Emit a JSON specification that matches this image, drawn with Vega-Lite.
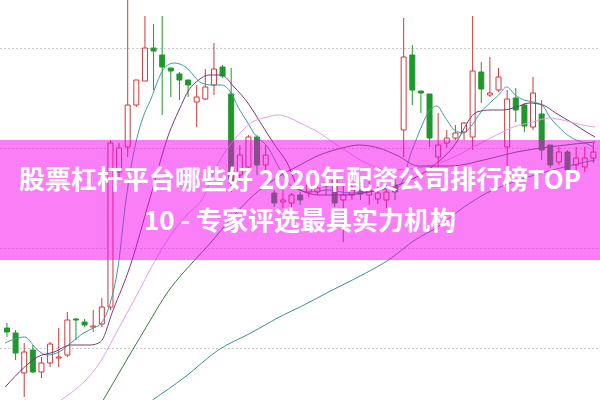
{
  "$schema": "https://vega.github.io/schema/vega-lite/v6.json",
  "width": 600,
  "height": 400,
  "autosize": {"type": "fit", "contains": "padding"},
  "padding": 0,
  "background": "#ffffff",
  "view": {"stroke": null},
  "datasets": {
    "candles": [
      {"d":0,"o":12.0,"c":11.6,"h":12.5,"l":11.1},
      {"d":1,"o":11.5,"c":9.5,"h":11.8,"l":8.8},
      {"d":2,"o":7.5,"c":9.6,"h":10.5,"l":5.1},
      {"d":3,"o":9.8,"c":7.6,"h":10.3,"l":7.5},
      {"d":4,"o":7.6,"c":8.5,"h":9.1,"l":7.0},
      {"d":5,"o":8.5,"c":10.4,"h":10.6,"l":8.1},
      {"d":6,"o":9.0,"c":9.1,"h":12.0,"l":8.1},
      {"d":7,"o":9.3,"c":12.8,"h":13.6,"l":9.1},
      {"d":8,"o":12.9,"c":12.8,"h":13.0,"l":10.8},
      {"d":9,"o":12.6,"c":12.3,"h":12.9,"l":12.1},
      {"d":10,"o":12.1,"c":12.2,"h":13.8,"l":11.6},
      {"d":11,"o":12.4,"c":14.1,"h":15.0,"l":12.1},
      {"d":12,"o":14.1,"c":30.5,"h":30.8,"l":13.8},
      {"d":13,"o":27.6,"c":30.0,"h":30.5,"l":26.8},
      {"d":14,"o":30.1,"c":34.3,"h":44.8,"l":29.1},
      {"d":15,"o":34.3,"c":36.8,"h":36.8,"l":34.1},
      {"d":16,"o":36.7,"c":40.0,"h":43.2,"l":36.7},
      {"d":17,"o":40.0,"c":39.7,"h":42.4,"l":35.8},
      {"d":18,"o":39.3,"c":38.1,"h":43.2,"l":33.3},
      {"d":19,"o":38.0,"c":37.7,"h":38.0,"l":35.1},
      {"d":20,"o":37.4,"c":36.8,"h":37.6,"l":34.8},
      {"d":21,"o":36.8,"c":36.3,"h":36.8,"l":35.1},
      {"d":22,"o":34.6,"c":35.1,"h":36.3,"l":32.1},
      {"d":23,"o":34.9,"c":36.1,"h":37.9,"l":34.8},
      {"d":24,"o":36.3,"c":37.9,"h":40.5,"l":35.3},
      {"d":25,"o":38.1,"c":37.2,"h":38.3,"l":37.0},
      {"d":26,"o":35.4,"c":26.5,"h":38.0,"l":25.6},
      {"d":27,"o":27.3,"c":29.3,"h":30.3,"l":26.6},
      {"d":28,"o":28.1,"c":31.1,"h":31.3,"l":27.8},
      {"d":29,"o":31.1,"c":28.3,"h":31.3,"l":27.3},
      {"d":30,"o":28.3,"c":29.3,"h":30.3,"l":27.5},
      {"d":31,"o":25.5,"c":24.5,"h":25.8,"l":24.1},
      {"d":32,"o":24.6,"c":24.8,"h":25.8,"l":24.0},
      {"d":33,"o":24.5,"c":25.3,"h":25.5,"l":24.0},
      {"d":34,"o":25.3,"c":24.8,"h":25.6,"l":24.3},
      {"d":35,"o":25.6,"c":26.3,"h":27.5,"l":25.1},
      {"d":36,"o":25.6,"c":26.0,"h":27.1,"l":25.3},
      {"d":37,"o":26.5,"c":26.2,"h":27.1,"l":25.3},
      {"d":38,"o":26.8,"c":24.5,"h":27.1,"l":24.1},
      {"d":39,"o":24.8,"c":25.3,"h":26.3,"l":20.6},
      {"d":40,"o":25.3,"c":25.8,"h":26.5,"l":24.8},
      {"d":41,"o":25.8,"c":25.4,"h":26.6,"l":24.8},
      {"d":42,"o":25.3,"c":25.8,"h":26.8,"l":24.3},
      {"d":43,"o":24.9,"c":25.5,"h":26.3,"l":24.4},
      {"d":44,"o":24.8,"c":25.6,"h":26.3,"l":24.0},
      {"d":45,"o":26.3,"c":25.6,"h":27.0,"l":24.8},
      {"d":46,"o":31.8,"c":39.1,"h":43.0,"l":29.1},
      {"d":47,"o":39.3,"c":35.8,"h":40.3,"l":34.3},
      {"d":48,"o":35.7,"c":35.5,"h":35.7,"l":33.5},
      {"d":49,"o":35.4,"c":31.0,"h":35.4,"l":30.1},
      {"d":50,"o":29.1,"c":30.3,"h":33.5,"l":28.1},
      {"d":51,"o":30.5,"c":31.0,"h":31.8,"l":30.0},
      {"d":52,"o":31.0,"c":31.5,"h":32.3,"l":30.8},
      {"d":53,"o":31.6,"c":32.5,"h":32.6,"l":30.8},
      {"d":54,"o":31.1,"c":37.7,"h":43.2,"l":29.8},
      {"d":55,"o":37.6,"c":35.9,"h":38.6,"l":34.5},
      {"d":56,"o":35.3,"c":35.5,"h":39.1,"l":35.1},
      {"d":57,"o":35.8,"c":37.1,"h":38.0,"l":35.6},
      {"d":58,"o":30.1,"c":34.9,"h":35.8,"l":28.1},
      {"d":59,"o":35.0,"c":33.8,"h":36.0,"l":32.6},
      {"d":60,"o":34.3,"c":32.2,"h":34.5,"l":31.6},
      {"d":61,"o":32.1,"c":35.5,"h":37.1,"l":31.8},
      {"d":62,"o":33.4,"c":29.8,"h":34.8,"l":28.8},
      {"d":63,"o":30.3,"c":28.3,"h":30.3,"l":28.0},
      {"d":64,"o":28.6,"c":29.6,"h":30.1,"l":28.3},
      {"d":65,"o":29.6,"c":27.8,"h":29.8,"l":26.8},
      {"d":66,"o":28.3,"c":29.0,"h":30.1,"l":27.8},
      {"d":67,"o":28.1,"c":29.0,"h":30.1,"l":27.6},
      {"d":68,"o":29.0,"c":29.6,"h":30.5,"l":28.5}
    ],
    "ma": [
      {"ma":"MA5","d":-0.2,"p":10.5},{"ma":"MA5","d":2.05,"p":11.1},{"ma":"MA5","d":3.53,"p":9.8},{"ma":"MA5","d":4.67,"p":9.3},
      {"ma":"MA5","d":6.04,"p":9.6},{"ma":"MA5","d":7.41,"p":10.5},{"ma":"MA5","d":8.89,"p":11.5},{"ma":"MA5","d":10.03,"p":12.0},
      {"ma":"MA5","d":10.95,"p":12.5},{"ma":"MA5","d":11.97,"p":14.5},{"ma":"MA5","d":12.88,"p":18.1},{"ma":"MA5","d":13.8,"p":24.8},
      {"ma":"MA5","d":14.94,"p":30.5},{"ma":"MA5","d":15.96,"p":33.5},{"ma":"MA5","d":16.65,"p":34.8},{"ma":"MA5","d":17.67,"p":37.1},
      {"ma":"MA5","d":18.36,"p":38.1},{"ma":"MA5","d":19.38,"p":38.5},{"ma":"MA5","d":20.3,"p":38.3},{"ma":"MA5","d":21.09,"p":37.8},
      {"ma":"MA5","d":21.78,"p":37.1},{"ma":"MA5","d":22.58,"p":36.5},{"ma":"MA5","d":23.72,"p":36.3},{"ma":"MA5","d":24.86,"p":36.3},
      {"ma":"MA5","d":26.0,"p":35.5},{"ma":"MA5","d":26.8,"p":34.1},{"ma":"MA5","d":27.94,"p":32.5},{"ma":"MA5","d":28.62,"p":31.5},
      {"ma":"MA5","d":30.22,"p":30.1},{"ma":"MA5","d":31.7,"p":27.8},{"ma":"MA5","d":32.84,"p":26.3},{"ma":"MA5","d":35.12,"p":25.6},
      {"ma":"MA5","d":37.4,"p":25.8},{"ma":"MA5","d":39.68,"p":25.5},{"ma":"MA5","d":41.96,"p":25.6},{"ma":"MA5","d":44.24,"p":26.0},
      {"ma":"MA5","d":45.38,"p":26.1},{"ma":"MA5","d":46.98,"p":29.8},{"ma":"MA5","d":48.0,"p":32.0},{"ma":"MA5","d":48.8,"p":33.5},
      {"ma":"MA5","d":49.83,"p":34.2},{"ma":"MA5","d":50.86,"p":33.0},{"ma":"MA5","d":51.88,"p":31.8},{"ma":"MA5","d":52.91,"p":31.5},
      {"ma":"MA5","d":53.93,"p":32.3},{"ma":"MA5","d":54.96,"p":33.6},{"ma":"MA5","d":55.99,"p":34.5},{"ma":"MA5","d":57.01,"p":35.3},
      {"ma":"MA5","d":57.93,"p":36.1},{"ma":"MA5","d":58.95,"p":35.3},{"ma":"MA5","d":59.98,"p":34.8},{"ma":"MA5","d":61.0,"p":34.6},
      {"ma":"MA5","d":62.03,"p":34.3},{"ma":"MA5","d":62.94,"p":33.1},{"ma":"MA5","d":63.97,"p":32.1},{"ma":"MA5","d":64.99,"p":31.3},
      {"ma":"MA5","d":66.02,"p":30.8},{"ma":"MA5","d":67.05,"p":30.5},{"ma":"MA5","d":67.96,"p":30.1},

      {"ma":"MA10","d":-0.2,"p":6.1},{"ma":"MA10","d":2.05,"p":8.1},{"ma":"MA10","d":3.53,"p":9.1},{"ma":"MA10","d":5.47,"p":9.6},
      {"ma":"MA10","d":7.41,"p":10.3},{"ma":"MA10","d":9.69,"p":10.3},{"ma":"MA10","d":10.83,"p":10.6},{"ma":"MA10","d":12.31,"p":13.8},
      {"ma":"MA10","d":14.25,"p":18.1},{"ma":"MA10","d":16.53,"p":24.8},{"ma":"MA10","d":18.81,"p":31.5},{"ma":"MA10","d":19.95,"p":33.8},
      {"ma":"MA10","d":21.09,"p":35.8},{"ma":"MA10","d":22.23,"p":36.8},{"ma":"MA10","d":23.38,"p":37.3},{"ma":"MA10","d":24.86,"p":37.3},
      {"ma":"MA10","d":26.34,"p":36.1},{"ma":"MA10","d":27.94,"p":34.5},{"ma":"MA10","d":29.42,"p":32.5},{"ma":"MA10","d":30.9,"p":30.5},
      {"ma":"MA10","d":32.5,"p":28.5},{"ma":"MA10","d":33.98,"p":25.8},{"ma":"MA10","d":36.26,"p":25.3},{"ma":"MA10","d":39.1,"p":25.3},
      {"ma":"MA10","d":41.96,"p":25.6},{"ma":"MA10","d":45.38,"p":26.3},{"ma":"MA10","d":48.8,"p":27.8},{"ma":"MA10","d":51.65,"p":30.0},
      {"ma":"MA10","d":54.5,"p":33.6},{"ma":"MA10","d":55.99,"p":33.8},{"ma":"MA10","d":57.58,"p":33.8},{"ma":"MA10","d":59.07,"p":34.1},
      {"ma":"MA10","d":60.55,"p":34.5},{"ma":"MA10","d":62.14,"p":34.3},{"ma":"MA10","d":63.63,"p":33.5},{"ma":"MA10","d":65.56,"p":32.5},
      {"ma":"MA10","d":67.39,"p":31.5},{"ma":"MA10","d":68.19,"p":31.1},

      {"ma":"MA20","d":6.27,"p":4.8},{"ma":"MA20","d":11.17,"p":9.1},{"ma":"MA20","d":12.66,"p":11.5},{"ma":"MA20","d":14.94,"p":15.1},
      {"ma":"MA20","d":17.22,"p":18.8},{"ma":"MA20","d":19.16,"p":21.5},{"ma":"MA20","d":21.09,"p":23.5},{"ma":"MA20","d":22.58,"p":24.8},
      {"ma":"MA20","d":24.51,"p":28.5},{"ma":"MA20","d":26.34,"p":30.8},{"ma":"MA20","d":28.28,"p":32.5},{"ma":"MA20","d":30.22,"p":33.1},
      {"ma":"MA20","d":31.36,"p":33.3},{"ma":"MA20","d":32.84,"p":33.0},{"ma":"MA20","d":33.98,"p":32.5},{"ma":"MA20","d":36.26,"p":31.5},
      {"ma":"MA20","d":37.74,"p":30.6},{"ma":"MA20","d":39.68,"p":29.5},{"ma":"MA20","d":41.62,"p":28.5},{"ma":"MA20","d":44.24,"p":27.8},
      {"ma":"MA20","d":47.66,"p":28.0},{"ma":"MA20","d":51.08,"p":28.8},{"ma":"MA20","d":54.5,"p":30.3},{"ma":"MA20","d":56.78,"p":31.3},
      {"ma":"MA20","d":58.72,"p":32.1},{"ma":"MA20","d":61.0,"p":32.6},{"ma":"MA20","d":62.83,"p":33.0},{"ma":"MA20","d":64.42,"p":32.8},
      {"ma":"MA20","d":66.7,"p":32.3},{"ma":"MA20","d":68.19,"p":32.1},

      {"ma":"MA30","d":11.17,"p":4.8},{"ma":"MA30","d":15.74,"p":11.5},{"ma":"MA30","d":18.81,"p":15.8},{"ma":"MA30","d":21.78,"p":18.8},
      {"ma":"MA30","d":23.38,"p":20.3},{"ma":"MA30","d":26.34,"p":23.3},{"ma":"MA30","d":28.62,"p":25.3},{"ma":"MA30","d":30.9,"p":26.8},
      {"ma":"MA30","d":33.98,"p":28.3},{"ma":"MA30","d":36.26,"p":29.3},{"ma":"MA30","d":38.88,"p":30.0},{"ma":"MA30","d":40.82,"p":30.3},
      {"ma":"MA30","d":43.1,"p":30.0},{"ma":"MA30","d":45.38,"p":29.2},{"ma":"MA30","d":47.66,"p":28.2},{"ma":"MA30","d":51.42,"p":28.2},
      {"ma":"MA30","d":55.3,"p":28.8},{"ma":"MA30","d":59.07,"p":29.6},{"ma":"MA30","d":62.83,"p":30.1},{"ma":"MA30","d":68.19,"p":30.6},

      {"ma":"MA60","d":16.88,"p":4.8},{"ma":"MA60","d":20.64,"p":7.1},{"ma":"MA60","d":24.51,"p":9.8},{"ma":"MA60","d":28.28,"p":11.5},
      {"ma":"MA60","d":32.04,"p":13.3},{"ma":"MA60","d":33.98,"p":14.1},{"ma":"MA60","d":37.74,"p":15.8},{"ma":"MA60","d":41.62,"p":17.5},
      {"ma":"MA60","d":44.24,"p":18.8},{"ma":"MA60","d":47.32,"p":20.8},{"ma":"MA60","d":49.94,"p":22.1},{"ma":"MA60","d":53.02,"p":24.1},
      {"ma":"MA60","d":55.64,"p":25.5},{"ma":"MA60","d":59.41,"p":26.8},{"ma":"MA60","d":63.28,"p":27.8},{"ma":"MA60","d":68.19,"p":28.8}
    ]
  },
  "layer": [
    {
      "data": {"name": "candles"},
      "transform": [{"calculate": "datum.c >= datum.o ? 'up' : 'down'", "as": "dir"}],
      "mark": {"type": "rule", "strokeWidth": 1, "clip": true},
      "encoding": {
        "x": {"field": "d", "type": "quantitative", "scale": {"domain": [-0.228, 68.187], "nice": false, "zero": false}, "axis": null},
        "y": {"field": "l", "type": "quantitative", "scale": {"domain": [4.8, 44.8], "nice": false, "zero": false},
              "axis": {"grid": true, "labels": false, "ticks": false, "domain": false, "title": null, "values": [10, 20, 30, 40], "gridDash": [1, 3], "gridColor": "#999999", "gridWidth": 1}},
        "y2": {"field": "h"},
        "stroke": {"field": "dir", "type": "nominal", "scale": {"domain": ["up", "down"], "range": ["#d2383a", "#1f982b"]}, "legend": null}
      }
    },
    {
      "data": {"name": "candles"},
      "transform": [{"calculate": "datum.c >= datum.o ? 'up' : 'down'", "as": "dir"}],
      "mark": {"type": "bar", "size": 5, "strokeWidth": 1, "clip": true},
      "encoding": {
        "x": {"field": "d", "type": "quantitative"},
        "y": {"field": "o", "type": "quantitative"},
        "y2": {"field": "c"},
        "stroke": {"field": "dir", "type": "nominal", "legend": null},
        "fill": {"field": "dir", "type": "nominal", "scale": {"domain": ["up", "down"], "range": ["#ffffff", "#1f982b"]}, "legend": null}
      }
    },
    {
      "data": {"name": "ma"},
      "mark": {"type": "line", "strokeWidth": 1, "clip": true, "interpolate": "monotone"},
      "encoding": {
        "x": {"field": "d", "type": "quantitative"},
        "y": {"field": "p", "type": "quantitative"},
        "color": {"field": "ma", "type": "nominal", "scale": {"domain": ["MA5", "MA10", "MA20", "MA30", "MA60"], "range": ["#3f9e9c", "#7a3a78", "#e4a0e6", "#3b7a45", "#3f8f90"]}, "legend": null},
        "order": {"field": "d", "type": "quantitative"}
      }
    },
    {
      "data": {"values": [{}]},
      "mark": {"type": "rect", "color": "#f500f0", "opacity": 0.5, "clip": true},
      "encoding": {
        "x": {"datum": -1, "type": "quantitative"},
        "x2": {"datum": 70},
        "y": {"datum": 30.8, "type": "quantitative"},
        "y2": {"datum": 18.8}
      }
    },
    {
      "data": {"values": [{}]},
      "mark": {"type": "text", "text": "股票杠杆平台哪些好 2020年配资公司排行榜TOP", "font": "Noto Sans CJK SC", "fontWeight": "bold", "fontSize": 26, "color": "#ffffff", "align": "center", "baseline": "middle"},
      "encoding": {
        "x": {"datum": 33.98, "type": "quantitative"},
        "y": {"datum": 26.7, "type": "quantitative"}
      }
    },
    {
      "data": {"values": [{}]},
      "mark": {"type": "text", "text": "10 - 专家评选最具实力机构", "font": "Noto Sans CJK SC", "fontWeight": "bold", "fontSize": 26, "color": "#ffffff", "align": "center", "baseline": "middle"},
      "encoding": {
        "x": {"datum": 33.98, "type": "quantitative"},
        "y": {"datum": 22.6, "type": "quantitative"}
      }
    }
  ]
}
